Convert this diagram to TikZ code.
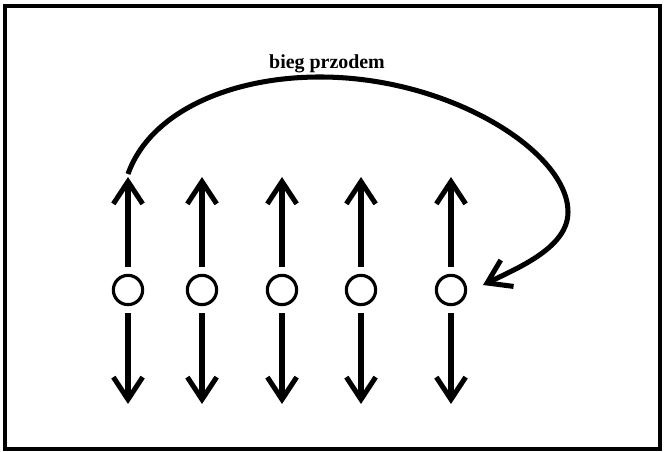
\documentclass[tikz,border=0pt]{standalone}
\usepackage{fontspec}
\setmainfont{Liberation Serif}
\usetikzlibrary{arrows.meta}

\tikzset{
  vec/.style={line width=4.3pt,-{Straight Barb[length=19pt,width=25pt,line join=miter]}},
  runner/.style={circle,draw,line width=2.7pt,minimum size=25pt,inner sep=0pt,fill=white}
}

\begin{document}
\begin{tikzpicture}[x=0.03cm,y=0.03cm]
\useasboundingbox (0,0) rectangle (664,452);
% Frame
\draw[line width=2.6pt] (5,3) rectangle (660,446);

% Runners with up and down arrows
\foreach \x/\i in {128/1, 202/2, 282/3, 361/4, 451/5} {
    \node[runner] (c\i) at (\x,162) {};
    \coordinate (up\i) at (\x,275);
    \coordinate (dn\i) at (\x,48);
    \draw[vec,shorten <=6pt] (c\i) -- (up\i);
    \draw[vec,shorten <=6pt] (c\i) -- (dn\i);
}

% Forward run
\coordinate (start) at (128,278);
\coordinate (peak) at (320,375);
\coordinate (turn) at (568,240);
\coordinate (stop) at (483,167);
\draw[vec] (start) .. controls (150,340) and (230,375) .. (peak)
  .. controls (450,375) and (568,300) .. (turn)
  .. controls (568,205) and (520,185) .. (stop);
\node[font=\fontsize{17}{20}\selectfont\bfseries] (lbl) at (327,388) {bieg przodem};
\end{tikzpicture}
\end{document}
